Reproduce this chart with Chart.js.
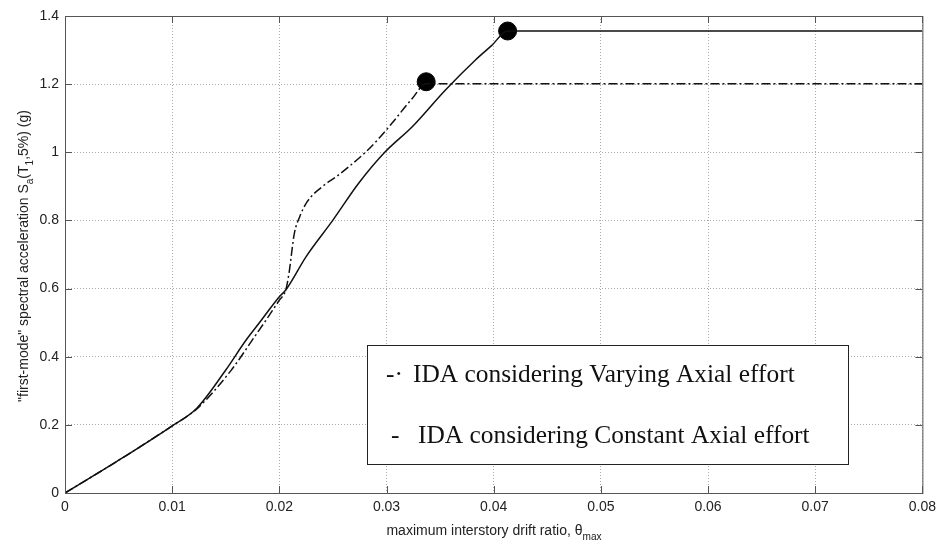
<!DOCTYPE html>
<html>
<head>
<meta charset="utf-8">
<script src="https://cdn.jsdelivr.net/npm/chart.js@4.4.0/dist/chart.umd.min.js"></script>
<style>
  body { margin: 0; background: #fff; }
  #wrap { width: 942px; height: 544px; }
</style>
</head>
<body>
<div id="wrap"><canvas id="idaChart"></canvas></div>
<script>
// IDA curves
const constantX = [0, 0.0048, 0.0099, 0.0123, 0.0150, 0.0169, 0.0181, 0.0200, 0.0206, 0.0225, 0.0250, 0.0274, 0.0299, 0.0324, 0.0355, 0.0383, 0.0398, 0.0413, 0.08];
const constantY = [0, 0.092, 0.195, 0.249, 0.361, 0.449, 0.498, 0.576, 0.596, 0.694, 0.801, 0.909, 1.002, 1.075, 1.183, 1.271, 1.313, 1.356, 1.356];

const varyingX = [0, 0.0048, 0.0099, 0.0123, 0.0155, 0.0175, 0.0200, 0.0206, 0.0209, 0.0214, 0.0219, 0.0226, 0.0240, 0.0253, 0.0265, 0.0281, 0.0293, 0.0305, 0.0324, 0.0337, 0.08];
const varyingY = [0, 0.092, 0.195, 0.247, 0.360, 0.450, 0.566, 0.596, 0.645, 0.762, 0.811, 0.855, 0.899, 0.928, 0.958, 1.002, 1.041, 1.085, 1.158, 1.201, 1.201];

// collapse points
const collapseX = [0.0337, 0.0413];
const collapseY = [1.207, 1.356];

const xTicks = [0, 0.01, 0.02, 0.03, 0.04, 0.05, 0.06, 0.07, 0.08];
const yTicks = [0, 0.2, 0.4, 0.6, 0.8, 1, 1.2, 1.4];

const legendLabels = ['IDA considering Varying Axial effort', 'IDA considering Constant Axial effort'];
const legendMarks = ['-\u00b7', '-'];

function toPoints(xs, ys) {
    return xs.map((x, i) => ({ x: x, y: ys[i] }));
}

// draws text pieces with subscripts one after another
function drawRich(ctx, parts, x, y, size) {
    let cx = x;
    parts.forEach(p => {
        const s = p.sub ? size * 0.72 : size;
        ctx.font = s + 'px "Liberation Sans", Arial, sans-serif';
        ctx.fillText(p.t, cx, y + (p.sub ? size * 0.35 : 0));
        cx += ctx.measureText(p.t).width;
    });
    return cx - x;
}
function richWidth(ctx, parts, size) {
    let w = 0;
    parts.forEach(p => {
        const s = p.sub ? size * 0.72 : size;
        ctx.font = s + 'px "Liberation Sans", Arial, sans-serif';
        w += ctx.measureText(p.t).width;
    });
    return w;
}

const framePlugin = {
    id: 'frame',
    afterDatasetsDraw(chart) {
        const ctx = chart.ctx;
        const a = chart.chartArea;
        const xs = chart.scales.x, ys = chart.scales.y;
        ctx.save();
        // box
        ctx.strokeStyle = '#555';
        ctx.lineWidth = 1;
        ctx.strokeRect(a.left + 0.5, a.top + 0.5, a.right - a.left, a.bottom - a.top);
        // inward ticks
        ctx.beginPath();
        xTicks.forEach(v => {
            const px = Math.round(xs.getPixelForValue(v)) + 0.5;
            ctx.moveTo(px, a.bottom); ctx.lineTo(px, a.bottom - 7);
            ctx.moveTo(px, a.top); ctx.lineTo(px, a.top + 7);
        });
        yTicks.forEach(v => {
            const py = Math.round(ys.getPixelForValue(v)) + 0.5;
            ctx.moveTo(a.left, py); ctx.lineTo(a.left + 7, py);
            ctx.moveTo(a.right, py); ctx.lineTo(a.right - 7, py);
        });
        ctx.stroke();

        // legend box
        const bx = 367, by = 345, bw = 481, bh = 119;
        ctx.fillStyle = '#fff';
        ctx.fillRect(bx, by, bw, bh);
        ctx.strokeStyle = '#222';
        ctx.strokeRect(bx + 0.5, by + 0.5, bw, bh);
        ctx.fillStyle = '#111';
        ctx.textBaseline = 'alphabetic';
        ctx.font = '25.4px "Liberation Serif", "Times New Roman", serif';
        ctx.fillText(legendMarks[0], 386, 382);
        ctx.fillText(legendLabels[0], 413, 382);
        ctx.fillText(legendMarks[1], 391, 443);
        ctx.fillText(legendLabels[1], 418, 443);

        // axis titles
        ctx.fillStyle = '#222';
        const xParts = [{ t: 'maximum interstory drift ratio, \u03b8' }, { t: 'max', sub: true }];
        const xw = richWidth(ctx, xParts, 14);
        drawRich(ctx, xParts, 494 - xw / 2, 535, 14);

        const yParts = [{ t: '"first-mode" spectral acceleration S' }, { t: 'a', sub: true },
            { t: '(T' }, { t: '1', sub: true }, { t: ',5%) (g)' }];
        const yw = richWidth(ctx, yParts, 14);
        ctx.translate(28, 256);
        ctx.rotate(-Math.PI / 2);
        drawRich(ctx, yParts, -yw / 2, 0, 14);
        ctx.restore();
    }
};

const tickFont = { family: '"Liberation Sans", Arial, sans-serif', size: 14 };

new Chart(document.getElementById('idaChart'), {
    type: 'scatter',
    data: {
        datasets: [
            {
                label: legendLabels[0],
                data: toPoints(varyingX, varyingY),
                showLine: true,
                borderColor: '#111',
                borderWidth: 1.5,
                borderDash: [9, 3, 2, 3],
                pointRadius: 0,
                cubicInterpolationMode: 'monotone'
            },
            {
                label: legendLabels[1],
                data: toPoints(constantX, constantY),
                showLine: true,
                borderColor: '#111',
                borderWidth: 1.5,
                pointRadius: 0,
                cubicInterpolationMode: 'monotone'
            },
            {
                label: 'collapse',
                data: toPoints(collapseX, collapseY),
                showLine: false,
                pointRadius: 9,
                pointBackgroundColor: '#000',
                pointBorderColor: '#000'
            }
        ]
    },
    options: {
        responsive: true,
        maintainAspectRatio: false,
        animation: false,
        layout: { padding: { top: 16, right: 17, left: 0, bottom: 0 } },
        plugins: { legend: { display: false }, tooltip: { enabled: false } },
        scales: {
            x: {
                type: 'linear',
                min: 0,
                max: 0.08,
                afterFit: s => { s.height = 51; },
                afterBuildTicks: s => { s.ticks = xTicks.map(v => ({ value: v })); },
                grid: { color: '#aaa', drawTicks: false, tickLength: 0 },
                border: { display: false, dash: [1, 2] },
                ticks: {
                    color: '#222', font: tickFont, padding: 6,
                    maxRotation: 0,
                    callback: v => String(v)
                }
            },
            y: {
                type: 'linear',
                min: 0,
                max: 1.4,
                afterFit: s => { s.width = 65; },
                afterBuildTicks: s => { s.ticks = yTicks.map(v => ({ value: v })); },
                grid: { color: '#aaa', drawTicks: false, tickLength: 0 },
                border: { display: false, dash: [1, 2] },
                ticks: {
                    color: '#222', font: tickFont, padding: 6,
                    callback: v => String(v)
                }
            }
        }
    },
    plugins: [framePlugin]
});
</script>
</body>
</html>
